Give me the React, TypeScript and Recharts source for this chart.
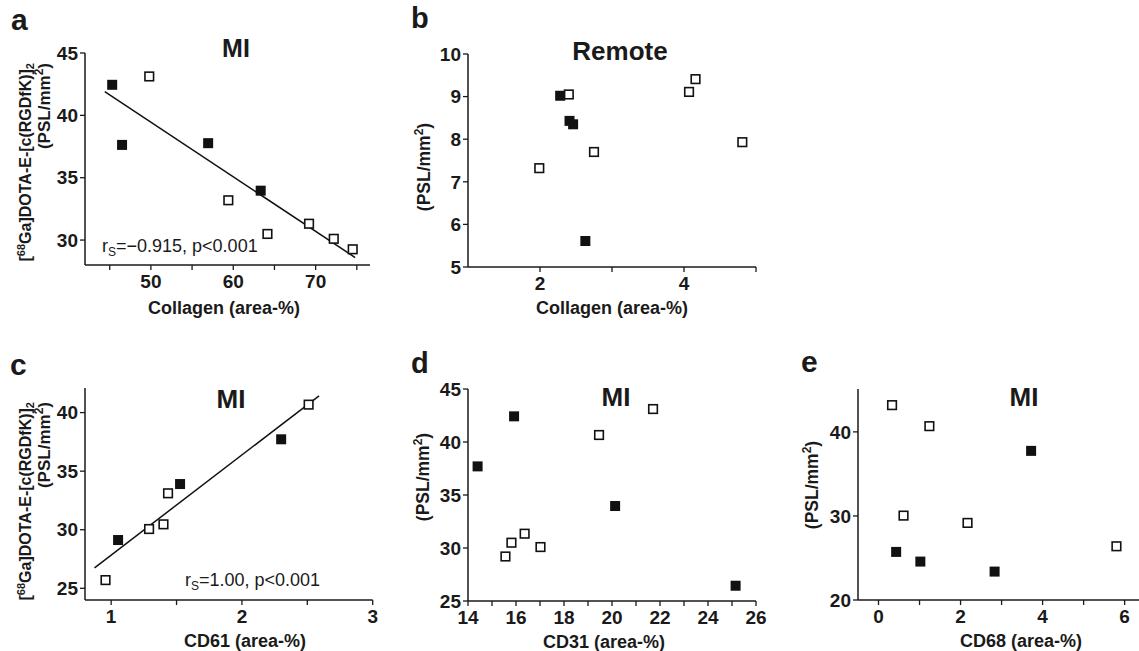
import React from 'react';
import { ScatterChart, Scatter, XAxis, YAxis, ReferenceLine } from 'recharts';

const W = 1139;
const H = 651;
const XH = 40;
const FONT = '"Liberation Sans", Arial, Helvetica, sans-serif';
const INK = '#1a1a1a';

type Pt = { x: number; y: number };

// a: MI, collagen
const miCollagenClosed: Pt[] = [
  { x: 45.3, y: 42.45 }, { x: 46.5, y: 37.63 }, { x: 56.95, y: 37.77 }, { x: 63.33, y: 33.96 },
];
const miCollagenOpen: Pt[] = [
  { x: 49.8, y: 43.12 }, { x: 59.4, y: 33.19 }, { x: 64.15, y: 30.49 },
  { x: 69.2, y: 31.31 }, { x: 72.2, y: 30.1 }, { x: 74.5, y: 29.26 },
];
const miCollagenFit: Pt[] = [{ x: 44.4, y: 41.9 }, { x: 74.8, y: 28.6 }];
const miCollagenXTicks = [45, 50, 55, 60, 65, 70, 75];
const miCollagenXLabels = [50, 60, 70];
const miCollagenYTicks = [30, 35, 40, 45];

// b: remote, collagen
const remoteCollagenClosed: Pt[] = [
  { x: 2.28, y: 9.02 }, { x: 2.41, y: 8.43 }, { x: 2.46, y: 8.35 }, { x: 2.63, y: 5.61 },
];
const remoteCollagenOpen: Pt[] = [
  { x: 2.4, y: 9.05 }, { x: 2.75, y: 7.7 }, { x: 1.99, y: 7.32 },
  { x: 4.07, y: 9.11 }, { x: 4.16, y: 9.41 }, { x: 4.81, y: 7.93 },
];
const remoteXTicks = [2, 3, 4, 5];
const remoteXLabels = [2, 4];
const remoteYTicks = [5, 6, 7, 8, 9, 10];

// c: MI, CD61
const cd61Closed: Pt[] = [{ x: 2.3, y: 37.72 }, { x: 1.527, y: 33.9 }, { x: 1.053, y: 29.12 }];
const cd61Open: Pt[] = [
  { x: 2.51, y: 40.68 }, { x: 1.435, y: 33.11 }, { x: 1.4, y: 30.46 },
  { x: 1.29, y: 30.06 }, { x: 0.957, y: 25.7 },
];
const cd61Fit: Pt[] = [{ x: 0.873, y: 26.75 }, { x: 2.59, y: 41.43 }];
const cd61XTicks = [1, 1.5, 2, 2.5, 3];
const cd61XLabels = [1, 2, 3];
const cd61YTicks = [25, 30, 35, 40];

// d: MI, CD31
const cd31Closed: Pt[] = [
  { x: 15.92, y: 42.42 }, { x: 14.4, y: 37.7 }, { x: 20.13, y: 33.96 }, { x: 25.15, y: 26.44 },
];
const cd31Open: Pt[] = [
  { x: 19.46, y: 40.66 }, { x: 21.71, y: 43.11 }, { x: 16.36, y: 31.35 },
  { x: 15.81, y: 30.5 }, { x: 15.56, y: 29.2 }, { x: 17.02, y: 30.09 },
];
const cd31XTicks = [14, 15, 16, 17, 18, 19, 20, 21, 22, 23, 24, 25, 26];
const cd31XLabels = [14, 16, 18, 20, 22, 24, 26];
const cd31YTicks = [25, 30, 35, 40, 45];

// e: MI, CD68
const cd68Closed: Pt[] = [
  { x: 3.72, y: 37.74 }, { x: 0.43, y: 25.72 }, { x: 1.02, y: 24.57 }, { x: 2.83, y: 23.38 },
];
const cd68Open: Pt[] = [
  { x: 0.33, y: 43.18 }, { x: 1.24, y: 40.68 }, { x: 0.61, y: 30.04 },
  { x: 2.17, y: 29.17 }, { x: 5.8, y: 26.39 },
];
const cd68XTicks = [0, 1, 2, 3, 4, 5, 6];
const cd68XLabels = [0, 2, 4, 6];
const cd68YTicks = [20, 30, 40];

const square = (filled: boolean) => (props: any) => {
  const { cx, cy } = props;
  if (cx == null || cy == null) return <g />;
  return filled ? (
    <rect x={cx - 5} y={cy - 5} width={10} height={10} fill="#111" />
  ) : (
    <rect x={cx - 4.3} y={cy - 4.3} width={8.6} height={8.6} fill="#fff" stroke="#111" strokeWidth={1.6} />
  );
};

const textStyle = { fontFamily: FONT, fill: INK };

// "(PSL/mm2)" with a real superscript
const Psl = () => (
  <>
    <tspan>(PSL/mm</tspan>
    <tspan fontSize={12} dy={-7}>2</tspan>
    <tspan dy={7}>)</tspan>
  </>
);

const RgdLabel = ({ x, y }: { x: number; y: number }) => (
  <g style={textStyle}>
    <text x={x} y={y} transform={`rotate(-90 ${x} ${y})`} textAnchor="end" fontSize={16} fontWeight={700}>
      <tspan>[</tspan>
      <tspan fontSize={11} dy={-6}>68</tspan>
      <tspan dy={6}>Ga]DOTA-E-[c(RGDfK)]</tspan>
      <tspan fontSize={11} dy={3}>2</tspan>
    </text>
    <text x={x + 19} y={y} transform={`rotate(-90 ${x + 19} ${y})`} textAnchor="end" fontSize={17} fontWeight={700}>
      <Psl />
    </text>
  </g>
);

const PslLabel = ({ x, y }: { x: number; y: number }) => (
  <text x={x} y={y} transform={`rotate(-90 ${x} ${y})`} textAnchor="middle" fontSize={17.5} fontWeight={700} style={textStyle}>
    <Psl />
  </text>
);

type PanelProps = {
  plot: { x0: number; x1: number; y0: number; y1: number };
  xDomain: [number, number];
  yDomain: [number, number];
  xTicks: number[];
  xLabels: number[];
  yTicks: number[];
  closed: Pt[];
  open: Pt[];
  fit?: Pt[];
  xTitle: string;
  xTitleAt: [number, number];
  yLabel: React.ReactNode;
};

function Panel(p: PanelProps) {
  const margin = { top: p.plot.y0, right: W - p.plot.x1, bottom: H - p.plot.y1 - XH, left: 0 };
  const tick = { fill: INK, fontSize: 19, fontWeight: 700, fontFamily: FONT };
  return (
    <div style={{ position: 'absolute', left: 0, top: 0 }}>
      <ScatterChart width={W} height={H} margin={margin}>
        <XAxis
          type="number"
          dataKey="x"
          domain={p.xDomain}
          allowDataOverflow
          ticks={p.xTicks}
          interval={0}
          tickFormatter={(v: number) => (p.xLabels.includes(v) ? String(v) : '')}
          tick={tick}
          tickSize={5}
          tickMargin={5}
          tickLine={{ stroke: INK, strokeWidth: 1.3 }}
          axisLine={{ stroke: INK, strokeWidth: 1.5 }}
          height={XH}
          label={() => (
            <text x={p.xTitleAt[0]} y={p.xTitleAt[1]} textAnchor="middle" fontSize={18} fontWeight={700} style={textStyle}>
              {p.xTitle}
            </text>
          )}
        />
        <YAxis
          type="number"
          dataKey="y"
          domain={p.yDomain}
          allowDataOverflow
          ticks={p.yTicks}
          interval={0}
          tick={tick}
          tickSize={5}
          tickMargin={2}
          tickLine={{ stroke: INK, strokeWidth: 1.3 }}
          axisLine={{ stroke: INK, strokeWidth: 1.5 }}
          width={p.plot.x0}
          label={() => p.yLabel}
        />
        {p.fit && (
          <ReferenceLine
            segment={[p.fit[0], p.fit[1]]}
            stroke="#111"
            strokeWidth={1.5}
            ifOverflow="visible"
          />
        )}
        <Scatter data={p.open} shape={square(false)} isAnimationActive={false} />
        <Scatter data={p.closed} shape={square(true)} isAnimationActive={false} />
      </ScatterChart>
    </div>
  );
}

const Stat = ({ x, y, value }: { x: number; y: number; value: string }) => (
  <text x={x} y={y} fontSize={18} style={textStyle}>
    r<tspan fontSize={12} dy={4}>S</tspan>
    <tspan dy={-4}>{value}</tspan>
  </text>
);

export default function App() {
  return (
    <div style={{ position: 'relative', width: W, height: H, overflow: 'hidden', background: '#fff' }}>
      <style>{'body{margin:0}'}</style>
      <Panel
        plot={{ x0: 85, x1: 370, y0: 53, y1: 265 }}
        xDomain={[42, 76.6]}
        yDomain={[28, 45]}
        xTicks={miCollagenXTicks}
        xLabels={miCollagenXLabels}
        yTicks={miCollagenYTicks}
        closed={miCollagenClosed}
        open={miCollagenOpen}
        fit={miCollagenFit}
        xTitle="Collagen (area-%)"
        xTitleAt={[224, 314]}
        yLabel={<RgdLabel x={31} y={63} />}
      />
      <Panel
        plot={{ x0: 468, x1: 756, y0: 54, y1: 267 }}
        xDomain={[1, 5]}
        yDomain={[5, 10]}
        xTicks={remoteXTicks}
        xLabels={remoteXLabels}
        yTicks={remoteYTicks}
        closed={remoteCollagenClosed}
        open={remoteCollagenOpen}
        xTitle="Collagen (area-%)"
        xTitleAt={[612, 314]}
        yLabel={<PslLabel x={430} y={167} />}
      />
      <Panel
        plot={{ x0: 85, x1: 372.7, y0: 388, y1: 600 }}
        xDomain={[0.8, 3]}
        yDomain={[24, 42.1]}
        xTicks={cd61XTicks}
        xLabels={cd61XLabels}
        yTicks={cd61YTicks}
        closed={cd61Closed}
        open={cd61Open}
        fit={cd61Fit}
        xTitle="CD61 (area-%)"
        xTitleAt={[245, 647]}
        yLabel={<RgdLabel x={31} y={402} />}
      />
      <Panel
        plot={{ x0: 468, x1: 756, y0: 389, y1: 601 }}
        xDomain={[14, 26]}
        yDomain={[25, 45]}
        xTicks={cd31XTicks}
        xLabels={cd31XLabels}
        yTicks={cd31YTicks}
        closed={cd31Closed}
        open={cd31Open}
        xTitle="CD31 (area-%)"
        xTitleAt={[604, 648]}
        yLabel={<PslLabel x={429} y={477} />}
      />
      <Panel
        plot={{ x0: 858, x1: 1139, y0: 389, y1: 600 }}
        xDomain={[-0.5, 6.35]}
        yDomain={[20, 45.1]}
        xTicks={cd68XTicks}
        xLabels={cd68XLabels}
        yTicks={cd68YTicks}
        closed={cd68Closed}
        open={cd68Open}
        xTitle="CD68 (area-%)"
        xTitleAt={[1021, 647]}
        yLabel={<PslLabel x={818} y={485} />}
      />
      <svg width={W} height={H} style={{ position: 'absolute', left: 0, top: 0, pointerEvents: 'none' }}>
        <g style={textStyle} fontWeight={700}>
          <text x={11} y={30} fontSize={30}>a</text>
          <text x={411} y={28} fontSize={29}>b</text>
          <text x={10} y={375} fontSize={30}>c</text>
          <text x={411} y={373} fontSize={29}>d</text>
          <text x={801} y={372} fontSize={30}>e</text>
          <text x={236} y={57} fontSize={25} textAnchor="middle">MI</text>
          <text x={620} y={60} fontSize={26} textAnchor="middle">Remote</text>
          <text x={231} y={408} fontSize={26} textAnchor="middle">MI</text>
          <text x={616} y={406} fontSize={26} textAnchor="middle">MI</text>
          <text x={1024} y={406} fontSize={26} textAnchor="middle">MI</text>
        </g>
        <Stat x={102} y={252} value="=−0.915, p<0.001" />
        <Stat x={185} y={586} value="=1.00, p<0.001" />
      </svg>
    </div>
  );
}
